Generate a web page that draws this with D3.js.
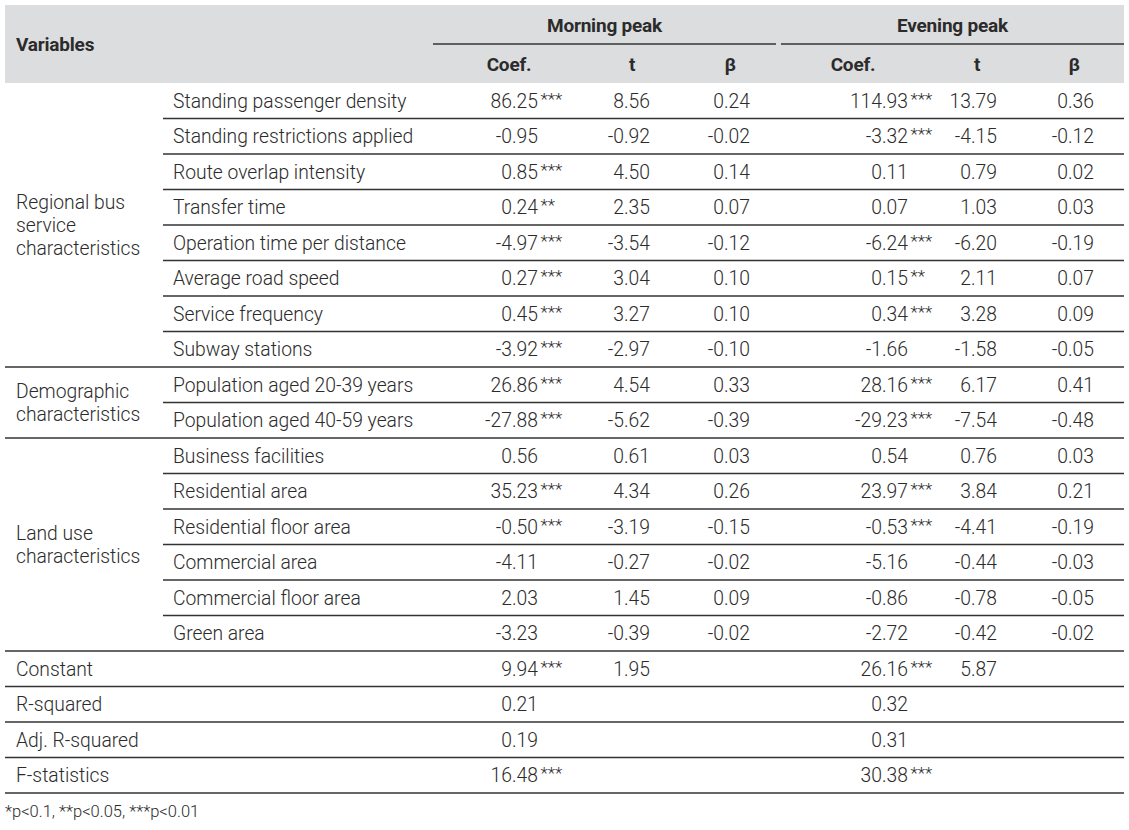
<!DOCTYPE html>
<html>
<head>
<meta charset="utf-8">
<script src="https://cdn.jsdelivr.net/npm/d3@7"></script>
<style>
body { margin: 0; background: #fff; }
svg text { font-family: Roboto, "Noto Sans", sans-serif; fill: #2b2b2b; }
.body-text { font-weight: 300; font-size: 19.3px; }
.head-text { font-weight: 700; font-size: 19px; letter-spacing: -0.2px; }
.star { font-weight: 300; font-size: 17px; }
</style>
</head>
<body>
<script>
// table content
var variables = ["Standing passenger density", "Standing restrictions applied", "Route overlap intensity",
  "Transfer time", "Operation time per distance", "Average road speed", "Service frequency", "Subway stations",
  "Population aged 20-39 years", "Population aged 40-59 years",
  "Business facilities", "Residential area", "Residential floor area", "Commercial area",
  "Commercial floor area", "Green area"]
var groups = [
  {name: ["Regional bus", "service", "characteristics"], from: 0, to: 7},
  {name: ["Demographic", "characteristics"], from: 8, to: 9},
  {name: ["Land use", "characteristics"], from: 10, to: 15}
]
var amCoef = ["86.25", "-0.95", "0.85", "0.24", "-4.97", "0.27", "0.45", "-3.92", "26.86", "-27.88",
  "0.56", "35.23", "-0.50", "-4.11", "2.03", "-3.23"]
var amStars = ["***", "", "***", "**", "***", "***", "***", "***", "***", "***", "", "***", "***", "", "", ""]
var amT = ["8.56", "-0.92", "4.50", "2.35", "-3.54", "3.04", "3.27", "-2.97", "4.54", "-5.62",
  "0.61", "4.34", "-3.19", "-0.27", "1.45", "-0.39"]
var amBeta = ["0.24", "-0.02", "0.14", "0.07", "-0.12", "0.10", "0.10", "-0.10", "0.33", "-0.39",
  "0.03", "0.26", "-0.15", "-0.02", "0.09", "-0.02"]
var pmCoef = ["114.93", "-3.32", "0.11", "0.07", "-6.24", "0.15", "0.34", "-1.66", "28.16", "-29.23",
  "0.54", "23.97", "-0.53", "-5.16", "-0.86", "-2.72"]
var pmStars = ["***", "***", "", "", "***", "**", "***", "", "***", "***", "", "***", "***", "", "", ""]
var pmT = ["13.79", "-4.15", "0.79", "1.03", "-6.20", "2.11", "3.28", "-1.58", "6.17", "-7.54",
  "0.76", "3.84", "-4.41", "-0.44", "-0.78", "-0.42"]
var pmBeta = ["0.36", "-0.12", "0.02", "0.03", "-0.19", "0.07", "0.09", "-0.05", "0.41", "-0.48",
  "0.03", "0.21", "-0.19", "-0.03", "-0.05", "-0.02"]
var statLabels = ["Constant", "R-squared", "Adj. R-squared", "F-statistics"]
var amStatCoef = ["9.94", "0.21", "0.19", "16.48"]
var amStatStars = ["***", "", "", "***"]
var amStatT = ["1.95", "", "", ""]
var pmStatCoef = ["26.16", "0.32", "0.31", "30.38"]
var pmStatStars = ["***", "", "", "***"]
var pmStatT = ["5.87", "", "", ""]
var periods = ["Morning peak", "Evening peak"]
var subHeads = ["Coef.", "t", "β"]
var footnote = "*p<0.1, **p<0.05, ***p<0.01"

var W = 1129, H = 830
var left = 5, right = 1124
var svg = d3.select("body").append("svg").attr("width", W).attr("height", H)

// rows
var nRows = variables.length + statLabels.length
var y = d3.scaleBand().domain(d3.range(nRows)).range([83, 793])

// columns (right edges of numbers)
var colRight = {amCoef: 538, amT: 650, amBeta: 750, pmCoef: 908, pmT: 997, pmBeta: 1094}
var headCenter = [[509, 632, 730], [853, 977, 1074]]
var periodSpan = [[433, 776], [781, 1124]]

// header background
svg.append("rect").attr("x", left).attr("y", 5).attr("width", right - left).attr("height", 78)
  .attr("fill", "#dcdddf")

svg.append("text").attr("class", "head-text").attr("x", 16).attr("y", 44).attr("dy", "0.35em")
  .text("Variables")

periods.forEach(function(p, i) {
  var s = periodSpan[i]
  svg.append("text").attr("class", "head-text").attr("x", (s[0] + s[1]) / 2).attr("y", 25)
    .attr("dy", "0.35em").attr("text-anchor", "middle").text(p)
  svg.append("line").attr("x1", s[0]).attr("x2", s[1]).attr("y1", 44).attr("y2", 44)
    .attr("stroke", "#333").attr("stroke-width", 1.3)
  subHeads.forEach(function(h, j) {
    svg.append("text").attr("class", "head-text").attr("x", headCenter[i][j]).attr("y", 64)
      .attr("dy", "0.35em").attr("text-anchor", "middle").text(h)
  })
})

// row lines
var groupEnds = groups.map(function(g) { return g.to })
for (var r = 0; r < nRows; r++) {
  var yb = y(r) + y.bandwidth()
  var full = r >= variables.length - 1 || groupEnds.indexOf(r) >= 0
  svg.append("line").attr("x1", full ? left : 163).attr("x2", right)
    .attr("y1", yb).attr("y2", yb).attr("stroke", "#333").attr("stroke-width", 1.3)
}

// group labels
groups.forEach(function(g) {
  var cy = (y(g.from) + y(g.to) + y.bandwidth()) / 2
  var lh = 23
  g.name.forEach(function(line, k) {
    svg.append("text").attr("class", "body-text").attr("x", 16)
      .attr("y", cy + (k - (g.name.length - 1) / 2) * lh).attr("dy", "0.35em").text(line)
  })
})

function numCell(val, stars, xr, row) {
  if (!val) return
  var cy = y(row) + y.bandwidth() / 2
  svg.append("text").attr("class", "body-text").attr("x", xr).attr("y", cy).attr("dy", "0.35em")
    .attr("text-anchor", "end").text(val)
  if (stars) {
    svg.append("text").attr("class", "star").attr("x", xr + 2.5).attr("y", cy + 4)
      .text(stars)
  }
}

variables.forEach(function(v, i) {
  svg.append("text").attr("class", "body-text").attr("x", 173).attr("y", y(i) + y.bandwidth() / 2)
    .attr("dy", "0.35em").text(v)
  numCell(amCoef[i], amStars[i], colRight.amCoef, i)
  numCell(amT[i], "", colRight.amT, i)
  numCell(amBeta[i], "", colRight.amBeta, i)
  numCell(pmCoef[i], pmStars[i], colRight.pmCoef, i)
  numCell(pmT[i], "", colRight.pmT, i)
  numCell(pmBeta[i], "", colRight.pmBeta, i)
})

statLabels.forEach(function(s, k) {
  var i = variables.length + k
  svg.append("text").attr("class", "body-text").attr("x", 16).attr("y", y(i) + y.bandwidth() / 2)
    .attr("dy", "0.35em").text(s)
  numCell(amStatCoef[k], amStatStars[k], colRight.amCoef, i)
  numCell(amStatT[k], "", colRight.amT, i)
  numCell(pmStatCoef[k], pmStatStars[k], colRight.pmCoef, i)
  numCell(pmStatT[k], "", colRight.pmT, i)
})

svg.append("text").attr("class", "body-text").attr("x", 5).attr("y", 811).attr("dy", "0.35em")
  .style("font-size", "16.5px").text(footnote)
</script>
</body>
</html>
